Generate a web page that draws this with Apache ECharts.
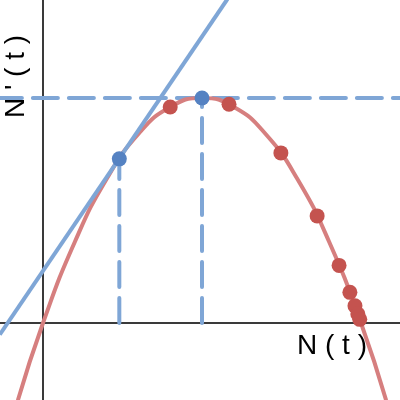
<!DOCTYPE html>
<html>
<head>
<meta charset="utf-8">
<script src="https://cdn.jsdelivr.net/npm/echarts@6/dist/echarts.min.js"></script>
<style>
  html, body { margin: 0; padding: 0; background: #fff; }
  #chart { width: 400px; height: 400px; }
</style>
</head>
<body>
<div id="chart"></div>
<script>
// curve N'(N)
const curvePts = [
    [-0.79, -0.86], [0, 0], [1, 0.9], [2, 1.6], [3, 2.1], [4, 2.4], [5, 2.5],
    [6, 2.4], [7, 2.1], [8, 1.6], [9, 0.9], [10, 0], [10.79, -0.86]
]
// tangent at the first blue point
const tangentPts = [[-1.36, -0.13], [5.8, 3.6]]
// observations (red)
const redPts = [
    [4.0, 2.4], [5.85, 2.43], [7.48, 1.89], [8.62, 1.19], [9.31, 0.64],
    [9.65, 0.34], [9.81, 0.19], [9.9, 0.1], [9.96, 0.04]
]
// special points (blue)
const bluePts = [[2.4, 1.824], [5, 2.5]]
// dashed guides
const hGuide = [[-1.45, 2.5], [11.3, 2.5]]
const vGuide1 = [[2.4, 0], [2.4, 1.824]]
const vGuide2 = [[5, 0], [5, 2.5]]

const chart = echarts.init(document.getElementById('chart'))

const blue = '#7fa6d6'
const dash = { width: 4, color: blue, type: [25, 11], cap: 'round' }

const option = {
    backgroundColor: '#fff',
    animation: false,
    grid: { left: 0, right: 0, top: 0, bottom: 0 },
    xAxis: {
        type: 'value',
        min: -1.352,
        max: 11.226,
        axisLine: { show: true, onZero: true, lineStyle: { color: '#3a3a3a', width: 2 } },
        axisTick: { show: false },
        axisLabel: { show: false },
        splitLine: { show: false }
    },
    yAxis: {
        type: 'value',
        min: -0.856,
        max: 3.589,
        axisLine: { show: true, onZero: true, lineStyle: { color: '#3a3a3a', width: 2 } },
        axisTick: { show: false },
        axisLabel: { show: false },
        splitLine: { show: false }
    },
    series: [
        {
            type: 'line',
            data: vGuide1,
            symbol: 'none',
            lineStyle: dash,
            z: 1
        },
        {
            type: 'line',
            data: vGuide2,
            symbol: 'none',
            lineStyle: dash,
            z: 1
        },
        {
            type: 'line',
            data: hGuide,
            symbol: 'none',
            lineStyle: dash,
            z: 1
        },
        {
            type: 'line',
            data: curvePts,
            smooth: true,
            symbol: 'none',
            lineStyle: { width: 4, color: '#d67f7f' },
            z: 2
        },
        {
            type: 'line',
            data: tangentPts,
            symbol: 'none',
            lineStyle: { width: 4, color: blue },
            z: 3
        },
        {
            type: 'scatter',
            data: redPts,
            symbolSize: 15,
            itemStyle: { color: '#c4534f', opacity: 1 },
            z: 4
        },
        {
            type: 'scatter',
            data: bluePts,
            symbolSize: 15,
            itemStyle: { color: '#5582c2', opacity: 1 },
            z: 5
        }
    ],
    graphic: [
        {
            type: 'text',
            x: 297,
            y: 346,
            style: {
                text: 'N ( t )',
                font: '28px "Liberation Sans", Arial, sans-serif',
                fill: '#000',
                textAlign: 'left',
                textVerticalAlign: 'middle'
            }
        },
        {
            type: 'text',
            x: 16,
            y: 118,
            rotation: Math.PI / 2,
            style: {
                text: "N ' ( t )",
                font: '28px "Liberation Sans", Arial, sans-serif',
                fill: '#000',
                textAlign: 'left',
                textVerticalAlign: 'middle'
            }
        }
    ]
}

chart.setOption(option)
</script>
</body>
</html>
